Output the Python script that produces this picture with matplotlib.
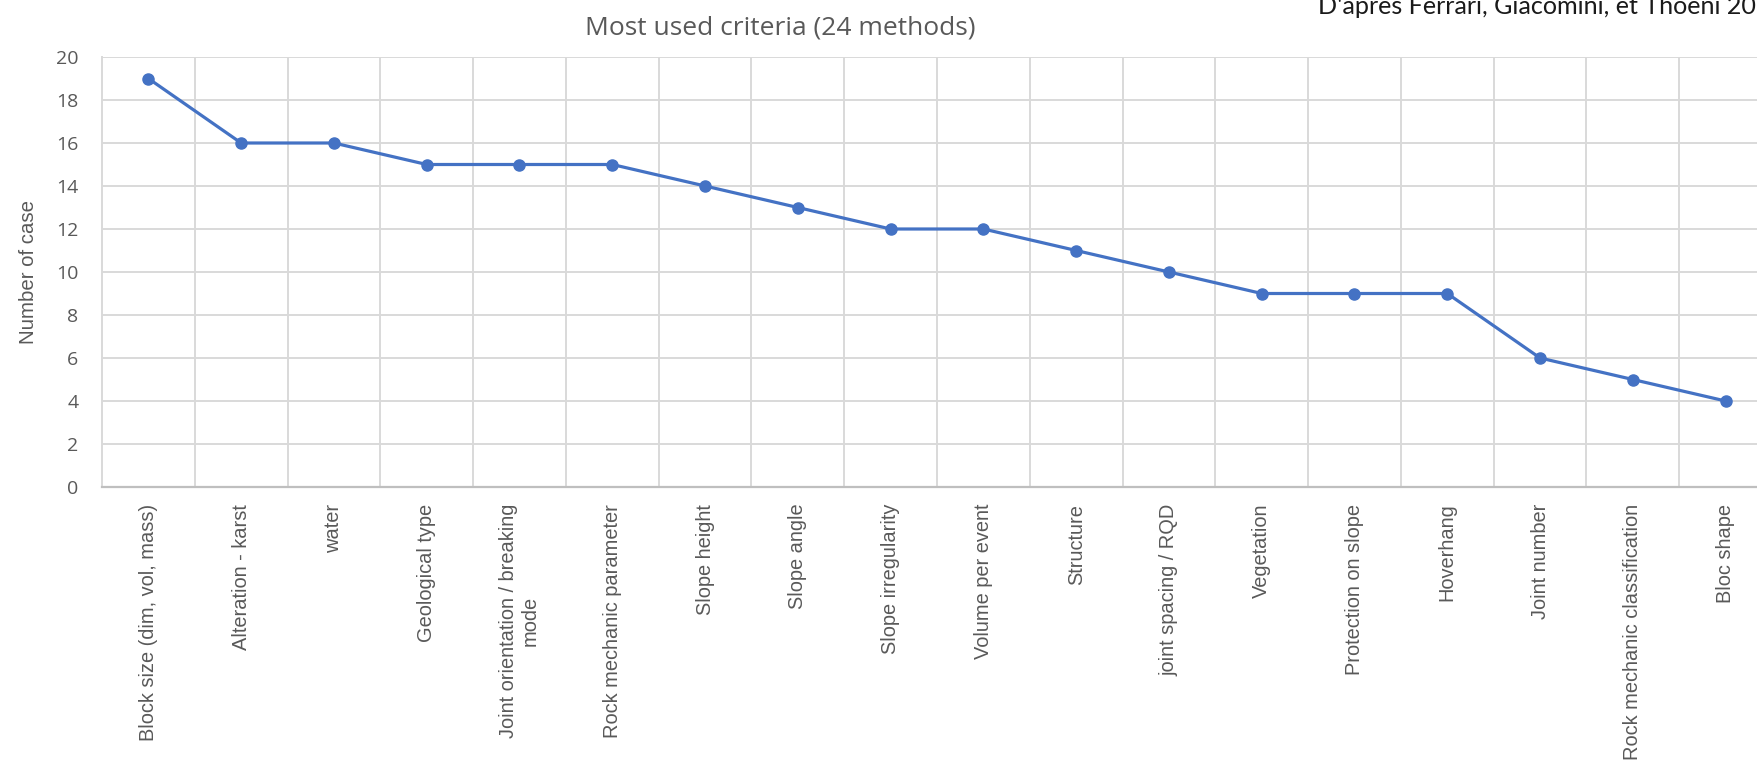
import matplotlib
matplotlib.use("Agg")
import matplotlib.pyplot as plt
from matplotlib.ticker import MultipleLocator, FixedLocator, NullFormatter

criteria = [
    "Block size (dim, vol, mass)",
    "Alteration - karst",
    "water",
    "Geological type",
    "Joint orientation / breaking\nmode",
    "Rock mechanic parameter",
    "Slope height",
    "Slope angle",
    "Slope irregularity",
    "Volume per event",
    "Structure",
    "joint spacing / RQD",
    "Vegetation",
    "Protection on slope",
    "Hoverhang",
    "Joint number",
    "Rock mechanic classification",
    "Bloc shape",
]
cases = [19, 16, 16, 15, 15, 15, 14, 13, 12, 12, 11, 10, 9, 9, 9, 6, 5, 4]

title = "Most used criteria (24 methods)"
source = "D'après Ferrari, Giacomini, et Thoeni 2016"

W, H = 1758, 772
fig = plt.figure(figsize=(W / 100, H / 100), dpi=100)
renderer = fig.canvas.get_renderer()

# plot area (pixels): left 102, top 57, bottom 487, right beyond the canvas
left, top, bottom, right = 102, 57, 487, 1772
ax = fig.add_axes([left / W, 1 - bottom / H, (right - left) / W, (bottom - top) / H])

line_color = "#4472C4"
grid_color = "#D9D9D9"
text_gray = "#595959"
label_font = ["Liberation Sans", "DejaVu Sans"]


def fit_size(text, family, target_px, base=14.0):
    """Font size giving the string the requested width in pixels."""
    t = fig.text(0, 0, text, fontsize=base, family=family)
    w = t.get_window_extent(renderer).width
    t.remove()
    return base * target_px / w


x = list(range(len(criteria)))
ax.plot(x, cases, color=line_color, lw=2.3, marker="o", ms=8,
        markerfacecolor=line_color, markeredgecolor=line_color, zorder=3,
        clip_on=False)

ax.set_xlim(-0.5, len(criteria) - 0.5)
ax.set_ylim(0, 20)
ax.yaxis.set_major_locator(MultipleLocator(2))

xfs = fit_size(criteria[0], label_font, 238)
ax.set_xticks(x)
ax.set_xticklabels(criteria, rotation=90, ha="center", va="top",
                   family=label_font, fontsize=xfs, color=text_gray,
                   multialignment="center")
ax.xaxis.set_minor_locator(FixedLocator([i + 0.5 for i in range(len(criteria))]))
ax.xaxis.set_minor_formatter(NullFormatter())

ax.tick_params(axis="x", which="both", length=0, pad=12)
ax.tick_params(axis="y", length=0, pad=17, labelsize=14, labelcolor=text_gray)
for lab in ax.get_yticklabels():
    lab.set_family(["Open Sans", "DejaVu Sans"])

ax.grid(axis="y", which="major", color=grid_color, lw=1.4)
ax.grid(axis="x", which="minor", color=grid_color, lw=1.4)
ax.grid(axis="x", which="major", visible=False)
ax.set_axisbelow(True)

for side in ("top", "right"):
    ax.spines[side].set_visible(False)
ax.spines["left"].set_color(grid_color)
ax.spines["left"].set_linewidth(1.4)
ax.spines["bottom"].set_color("#BFBFBF")
ax.spines["bottom"].set_linewidth(1.6)

yfs = fit_size("Number of case", label_font, 145)
ax.set_ylabel("Number of case", family=label_font, fontsize=yfs,
              color=text_gray, va="center")
ax.yaxis.set_label_coords((28 - left) / (right - left), 0.5)

fig.text(780 / W, 1 - 28 / H, title,
         ha="center", va="center", fontsize=19, color=text_gray,
         family=["Open Sans", "DejaVu Sans"])

src_font = ["Lato", "DejaVu Sans"]
sfs = fit_size("D'après Ferrari, Giacomini, et Thoeni 20", src_font, 440)
fig.text(1318 / W, 1 - 14 / H, source,
         ha="left", va="baseline", fontsize=sfs, color="#1a1a1a",
         family=src_font)

fig.savefig("out.png", dpi=100, facecolor="white")
